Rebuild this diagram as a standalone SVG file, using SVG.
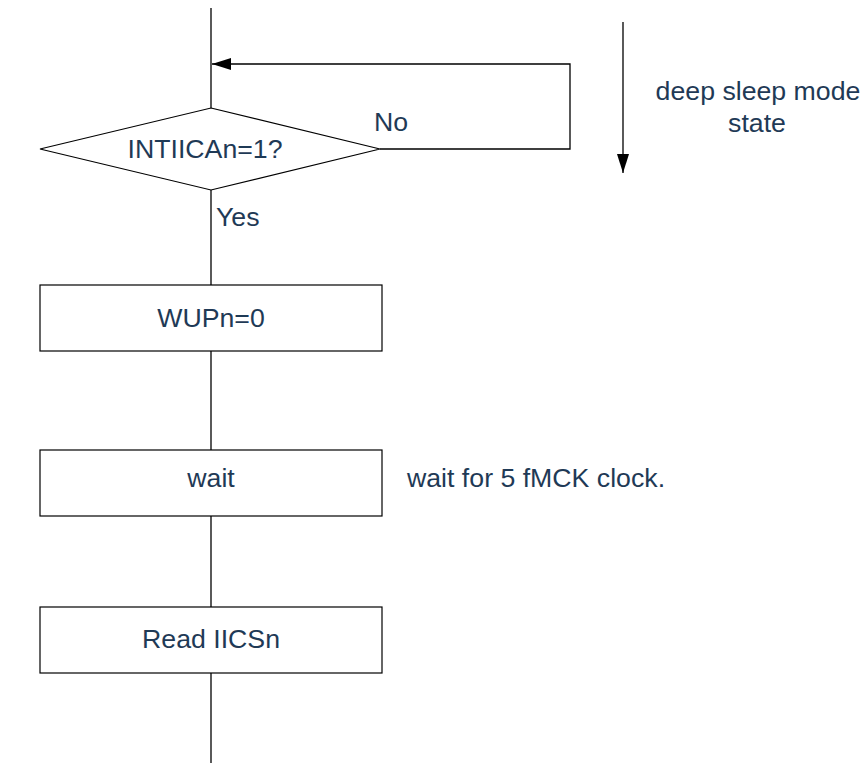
<svg xmlns="http://www.w3.org/2000/svg" width="868" height="767" viewBox="0 0 868 767">
<defs>
<marker id="ah" markerWidth="19" markerHeight="12" refX="19" refY="6" orient="auto" markerUnits="userSpaceOnUse">
<path d="M0,0 L19,6 L0,12 Z" fill="#000"/>
</marker>
<style>
.shape{fill:#fff;stroke:#000;stroke-width:1.2}
.line{fill:none;stroke:#000;stroke-width:1.3}
text{font-family:"Liberation Sans",Arial,sans-serif;font-size:26.7px;fill:#1F3A56}
.c{text-anchor:middle}
</style>
</defs>
<rect width="868" height="767" fill="#fff"/>
<g id="connectors">
<line class="line" x1="211" y1="8" x2="211" y2="108"/>
<polyline class="line" points="380,149 570,149 570,64 212,64" marker-end="url(#ah)"/>
<line class="line" x1="211" y1="190" x2="211" y2="285"/>
<line class="line" x1="211" y1="351" x2="211" y2="450"/>
<line class="line" x1="211" y1="516" x2="211" y2="607"/>
<line class="line" x1="211" y1="673" x2="211" y2="763"/>
<line class="line" x1="623" y1="22" x2="623" y2="173" marker-end="url(#ah)"/>
<text x="374" y="131">No</text>
<text x="216" y="226">Yes</text>
</g>
<g id="decision">
<polygon class="shape" points="211,108 380,149 211,190 40,149"/>
<text class="c" x="205" y="158">INTIICAn=1?</text>
</g>
<g id="wupn">
<rect class="shape" x="40" y="285" width="342" height="66"/>
<text class="c" x="211" y="327">WUPn=0</text>
</g>
<g id="wait">
<rect class="shape" x="40" y="450" width="342" height="66"/>
<text class="c" x="211" y="487">wait</text>
</g>
<g id="wait-note">
<text x="407" y="487">wait for 5 fMCK clock.</text>
</g>
<g id="read">
<rect class="shape" x="40" y="607" width="342" height="66"/>
<text class="c" x="211" y="648">Read IICSn</text>
</g>
<g id="deep-sleep-note">
<text class="c" x="758" y="100">deep sleep mode</text>
<text class="c" x="757" y="132">state</text>
</g>
</svg>
